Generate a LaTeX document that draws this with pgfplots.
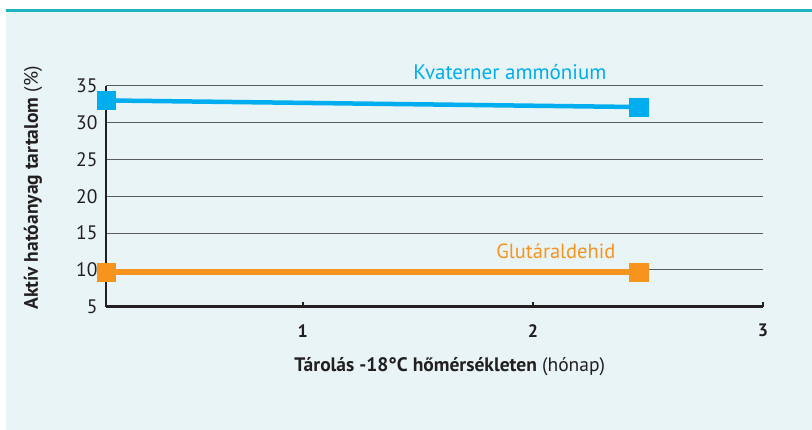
\documentclass[border=0pt]{standalone}
\usepackage{pgfplots}
\pgfplotsset{compat=1.18}
\usepackage{fontspec}
\setmainfont{PT Sans}
\definecolor{bgc}{HTML}{E8F4F6}
\definecolor{tealc}{HTML}{1FB3BD}
\definecolor{bluec}{HTML}{00AEEF}
\definecolor{orangec}{HTML}{F7941D}
\definecolor{txt}{HTML}{231F20}
\definecolor{gridc}{HTML}{5A5B5D}
\begin{document}
\begin{tikzpicture}[x=1pt,y=1pt]
\path (0,0) rectangle (812,430);
\fill[bgc] (6,0) rectangle (812,418);
\fill[tealc] (6,418) rectangle (812,421);
\begin{axis}[
  at={(106pt,123.3pt)}, anchor=south west,
  width=657pt, height=221pt, scale only axis,
  xmin=0.145, xmax=3, ymin=5, ymax=35,
  xtick={1,2,3}, ytick={5,10,...,35},
  axis x line*=bottom, axis y line*=left,
  axis line style={txt, line width=2.5pt, -},
  ymajorgrids, grid style={gridc, line width=1pt},
  xtick align=inside,
  x tick style={txt, line width=2.5pt},
  major tick length=5pt,
  y tick style={draw=none},
  /pgf/number format/assume math mode=true,
  font=\fontsize{19.5}{22}\selectfont,
  ticklabel style={txt},
  xticklabel style={font=\fontsize{18}{20}\selectfont\bfseries, yshift=-14pt},
  yticklabel style={font=\fontsize{19.5}{22}\selectfont, xshift=-5pt},
  xlabel={\textbf{Tárolás -18°C hőmérsékleten} (hónap)},
  ylabel={\textbf{Aktív hatóanyag tartalom} (\%)},
  xlabel style={txt, at={(axis description cs:0.523,-0.273)}, anchor=center},
  ylabel style={txt, at={(axis description cs:-0.111,0.537)}, anchor=center},
  clip=false,
]
\addplot[bluec, line width=4.5pt, mark=square*, mark size=9.2pt, mark options={solid, line width=0.3pt}]
  coordinates {(0.145,33.0) (2.46,32.1)};
\addplot[orangec, line width=5.5pt, mark=square*, mark size=9.2pt, mark options={solid, line width=0.3pt}]
  coordinates {(0.145,9.7) (2.46,9.7)};
\node[bluec, font=\fontsize{21}{24}\selectfont] at (axis cs:1.90,36.86) {Kvaterner ammónium};
\node[orangec, font=\fontsize{20.5}{24}\selectfont] at (axis cs:2.10,12.48) {Glutáraldehid};
\end{axis}
\end{tikzpicture}
\end{document}
